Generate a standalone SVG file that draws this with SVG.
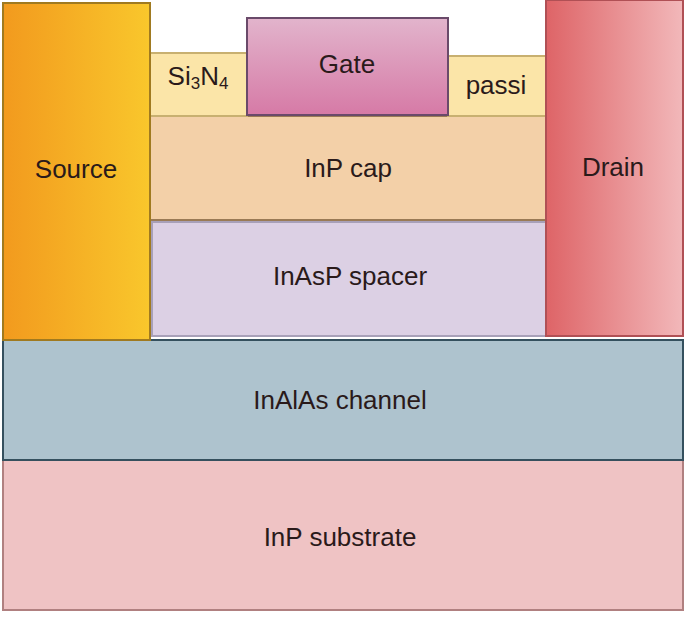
<svg xmlns="http://www.w3.org/2000/svg" width="685" height="618" viewBox="0 0 685 618">
<style>
text{font-family:"Liberation Sans",Arial,sans-serif;font-size:26px;fill:#2a1a1a;text-anchor:middle;dominant-baseline:central}
rect{stroke-width:2}
</style>
<defs>
<linearGradient id="src" x1="0" x2="1"><stop offset="0" stop-color="#f29a1e"/><stop offset="1" stop-color="#f9c72c"/></linearGradient>
<linearGradient id="drn" x1="0" x2="1"><stop offset="0" stop-color="#de6467"/><stop offset="1" stop-color="#f2b8ba"/></linearGradient>
<linearGradient id="gate" x1="0" x2="0" y1="0" y2="1"><stop offset="0" stop-color="#e2b4cc"/><stop offset="1" stop-color="#d67aa6"/></linearGradient>
</defs>
<rect width="685" height="618" fill="#fff"/>
<g id="substrate"><rect x="3" y="460" width="680" height="150" fill="#efc3c4" stroke="#b08080"/><text x="340" y="537">InP substrate</text></g>
<g id="channel"><rect x="3" y="340" width="680" height="120" fill="#aec3ce" stroke="#35505e"/><text x="340" y="400">InAlAs channel</text></g>
<g id="spacer"><rect x="152" y="222" width="394" height="114" fill="#dcd0e4" stroke="#a8a0b8"/><text x="350" y="276">InAsP spacer</text></g>
<g id="cap"><rect x="150" y="116" width="396" height="104" fill="#f3d0a8" stroke="#9a7a55"/><text x="348" y="168">InP cap</text></g>
<g id="si3n4"><rect x="150" y="53" width="97" height="63" fill="#fbe5a8" stroke="#c8b070"/><text x="198" y="76">Si<tspan font-size="17" dy="7">3</tspan><tspan dy="-7">N</tspan><tspan font-size="17" dy="7">4</tspan></text></g>
<g id="passi"><rect x="448" y="56" width="98" height="60" fill="#fbe5a8" stroke="#c8b070"/><text x="496" y="85">passi</text></g>
<g id="gate"><rect x="247" y="18" width="201" height="97" fill="url(#gate)" stroke="#6a4a6a"/><text x="347" y="64">Gate</text></g>
<g id="source"><rect x="3" y="3" width="147" height="337" fill="url(#src)" stroke="#a07a20"/><text x="76" y="169">Source</text></g>
<g id="drain"><rect x="546" y="0" width="137" height="336" fill="url(#drn)" stroke="#b05055"/><text x="613" y="167">Drain</text></g>
<g id="connectors"/>
</svg>
